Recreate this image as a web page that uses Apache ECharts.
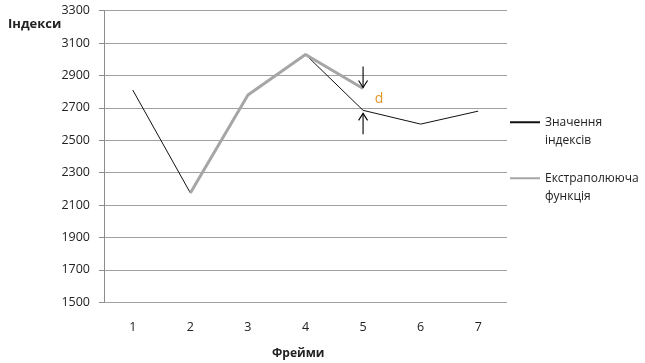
<!DOCTYPE html>
<html>
<head>
<meta charset="utf-8">
<script src="https://cdn.jsdelivr.net/npm/echarts@6/dist/echarts.min.js"></script>
<style>
  html, body { margin: 0; padding: 0; background: #fff; }
  #chart { width: 645px; height: 363px; }
</style>
</head>
<body>
<div id="chart"></div>
<script>
// Frame numbers along the horizontal axis
const frames = ['1', '2', '3', '4', '5', '6', '7'];
// Measured index values per frame
const indexValues = [2810, 2175, 2780, 3030, 2685, 2600, 2680];
// Extrapolating function (defined from frame 2 to frame 5)
const extrapolated = [null, 2175, 2780, 3030, 2820];
// Frame where the deviation d is marked
const gapFrame = 4;

const FONT = '"Open Sans", "Noto Sans", sans-serif';
const chart = echarts.init(document.getElementById('chart'), null, { renderer: 'canvas' });

// Two arrows pointing at the extrapolated and measured values, with the label "d"
function renderGap(params, api) {
  const x = api.value(0);
  const top = api.coord([x, api.value(1)]);
  const bot = api.coord([x, api.value(2)]);
  const len = 21, head = 4.5, hl = 7;
  const stroke = { stroke: '#000', lineWidth: 1.1, fill: null };
  const downTip = [top[0], top[1] - 1];
  const upTip = [bot[0], bot[1] + 3];
  return {
    type: 'group',
    children: [
      { type: 'line', shape: { x1: downTip[0], y1: downTip[1] - len, x2: downTip[0], y2: downTip[1] }, style: stroke },
      { type: 'polyline', shape: { points: [[downTip[0] - head, downTip[1] - hl], downTip, [downTip[0] + head, downTip[1] - hl]] }, style: stroke },
      { type: 'line', shape: { x1: upTip[0], y1: upTip[1] + len, x2: upTip[0], y2: upTip[1] }, style: stroke },
      { type: 'polyline', shape: { points: [[upTip[0] - head, upTip[1] + hl], upTip, [upTip[0] + head, upTip[1] + hl]] }, style: stroke },
      {
        type: 'text',
        style: {
          text: 'd', x: top[0] + 16, y: (top[1] + bot[1]) / 2,
          fill: '#e0952a', font: '14px ' + FONT, align: 'center', verticalAlign: 'middle'
        }
      }
    ]
  };
}

chart.setOption({
  animation: false,
  backgroundColor: '#fff',
  grid: { left: 104, right: 138, top: 10.7, bottom: 60.7 },
  graphic: [
    { type: 'text', left: 8, top: 18, style: { text: 'Індекси', font: 'bold 13px ' + FONT, fill: '#222' } },
    { type: 'text', left: 272, top: 348, style: { text: 'Фрейми', font: 'bold 12px ' + FONT, fill: '#222' } }
  ],
  legend: {
    orient: 'vertical',
    left: 510,
    top: 94.5,
    padding: 0,
    itemGap: 0.5,
    itemWidth: 30,
    itemHeight: 2,
    icon: 'rect',
    selectedMode: false,
    // leading blank line keeps the marker level with the first line of the name
    formatter: name => ' \n' + name.replace(' ', '\n'),
    textStyle: { fontFamily: FONT, fontSize: 12, color: '#222', lineHeight: 18.5 },
    data: [
      { name: 'Значення індексів', itemStyle: { color: '#111' } },
      { name: 'Екстраполююча функція', itemStyle: { color: '#a6a6a6' } }
    ]
  },
  xAxis: {
    type: 'category',
    data: frames,
    boundaryGap: true,
    axisLine: { show: false },
    axisTick: { show: false },
    axisLabel: { margin: 19, fontFamily: FONT, fontSize: 12.5, color: '#222' }
  },
  yAxis: {
    type: 'value',
    min: 1500,
    max: 3300,
    interval: 200,
    axisLine: { show: true, lineStyle: { color: '#8c8c8c', width: 1 } },
    axisTick: { show: true, length: 5, lineStyle: { color: '#8c8c8c' } },
    axisLabel: { margin: 14, fontFamily: FONT, fontSize: 12.5, color: '#222', formatter: v => String(v) },
    splitLine: { lineStyle: { color: '#a0a0a0', width: 1 } }
  },
  series: [
    {
      name: 'Значення індексів',
      type: 'line',
      data: indexValues,
      symbol: 'none',
      lineStyle: { color: '#111', width: 1 },
      z: 2
    },
    {
      name: 'Екстраполююча функція',
      type: 'line',
      data: extrapolated,
      symbol: 'none',
      lineStyle: { color: '#a6a6a6', width: 3 },
      z: 3
    },
    {
      type: 'custom',
      renderItem: renderGap,
      data: [[gapFrame, extrapolated[gapFrame], indexValues[gapFrame]]],
      silent: true,
      z: 4
    }
  ]
});
</script>
</body>
</html>
